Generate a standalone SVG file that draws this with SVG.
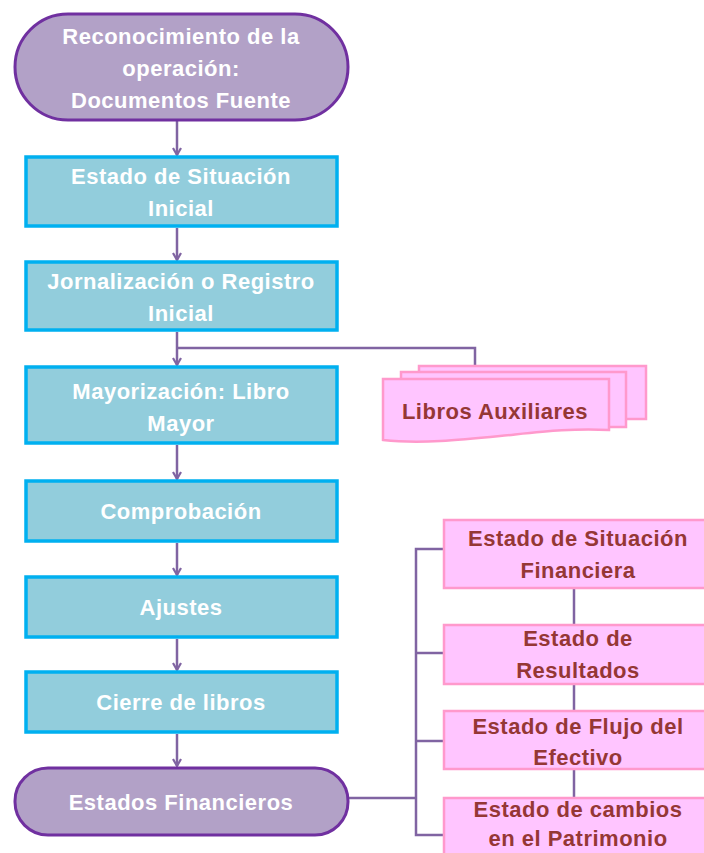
<svg xmlns="http://www.w3.org/2000/svg" width="704" height="853" viewBox="0 0 704 853">
<defs>
<style>
.term{fill:#b2a1c7;stroke:#7030a0;stroke-width:3}
.box{fill:#92cddc;stroke:#00b0f0;stroke-width:3.5}
.pink{fill:#ffc5ff;stroke:#ff99cc;stroke-width:2.5}
.wt{font-family:"Liberation Sans",Arial,sans-serif;font-weight:bold;font-size:22px;letter-spacing:0.5px;fill:#ffffff;text-anchor:middle}
.rt{font-family:"Liberation Sans",Arial,sans-serif;font-weight:bold;font-size:22px;letter-spacing:0.5px;fill:#953735;text-anchor:middle}
.ln{fill:none;stroke:#8064a2;stroke-width:2.5}
</style>
<marker id="ah" viewBox="0 0 10 10" refX="9" refY="5" markerWidth="10" markerHeight="10" markerUnits="userSpaceOnUse" orient="auto">
<path d="M2,1 L9,5 L2,9" fill="none" stroke="#8064a2" stroke-width="2.2"/>
</marker>
</defs>
<rect width="704" height="853" fill="#ffffff"/>

<g id="connectors">
<line class="ln" x1="177" y1="121" x2="177" y2="155" marker-end="url(#ah)"/>
<line class="ln" x1="177" y1="228" x2="177" y2="260" marker-end="url(#ah)"/>
<line class="ln" x1="177" y1="332" x2="177" y2="365" marker-end="url(#ah)"/>
<polyline class="ln" points="177,348 475,348 475,366"/>
<line class="ln" x1="177" y1="445" x2="177" y2="479" marker-end="url(#ah)"/>
<line class="ln" x1="177" y1="543" x2="177" y2="575" marker-end="url(#ah)"/>
<line class="ln" x1="177" y1="639" x2="177" y2="670" marker-end="url(#ah)"/>
<line class="ln" x1="177" y1="734" x2="177" y2="766" marker-end="url(#ah)"/>
<polyline class="ln" points="348,798 416,798"/>
<polyline class="ln" points="444,549 416,549 416,835 444,835"/>
<line class="ln" x1="416" y1="653" x2="444" y2="653"/>
<line class="ln" x1="416" y1="741" x2="444" y2="741"/>
<line class="ln" x1="574" y1="589" x2="574" y2="625"/>
<line class="ln" x1="574" y1="685" x2="574" y2="711"/>
<line class="ln" x1="574" y1="769" x2="574" y2="798"/>
</g>

<g id="n_reconocimiento">
<rect class="term" x="15" y="14" width="333" height="106" rx="53" ry="53"/>
<text class="wt" x="181" y="44">Reconocimiento de la</text>
<text class="wt" x="181" y="76">operación:</text>
<text class="wt" x="181" y="108">Documentos Fuente</text>
</g>

<g id="n_situacion_inicial">
<rect class="box" x="26" y="157" width="311" height="69"/>
<text class="wt" x="181" y="184">Estado de Situación</text>
<text class="wt" x="181" y="216">Inicial</text>
</g>

<g id="n_jornalizacion">
<rect class="box" x="26" y="262" width="311" height="68"/>
<text class="wt" x="181" y="289">Jornalización o Registro</text>
<text class="wt" x="181" y="321">Inicial</text>
</g>

<g id="n_mayorizacion">
<rect class="box" x="26" y="367" width="311" height="76"/>
<text class="wt" x="181" y="399">Mayorización: Libro</text>
<text class="wt" x="181" y="431">Mayor</text>
</g>

<g id="n_libros_auxiliares">
<rect class="pink" x="419" y="366" width="227" height="53"/>
<rect class="pink" x="401" y="372" width="225" height="55"/>
<path class="pink" d="M383,379 L609,379 L609,430 C570,428 540,432 500,436 C460,440 420,444 383,440 Z"/>
<text class="rt" x="495" y="419">Libros Auxiliares</text>
</g>

<g id="n_comprobacion">
<rect class="box" x="26" y="481" width="311" height="60"/>
<text class="wt" x="181" y="519">Comprobación</text>
</g>

<g id="n_ajustes">
<rect class="box" x="26" y="577" width="311" height="60"/>
<text class="wt" x="181" y="615">Ajustes</text>
</g>

<g id="n_cierre">
<rect class="box" x="26" y="672" width="311" height="60"/>
<text class="wt" x="181" y="710">Cierre de libros</text>
</g>

<g id="n_estados_financieros">
<rect class="term" x="15" y="768" width="333" height="67" rx="33" ry="33"/>
<text class="wt" x="181" y="810">Estados Financieros</text>
</g>

<g id="n_esf">
<rect class="pink" x="444" y="520" width="264" height="68"/>
<text class="rt" x="578" y="546">Estado de Situación</text>
<text class="rt" x="578" y="578">Financiera</text>
</g>

<g id="n_er">
<rect class="pink" x="444" y="625" width="264" height="59"/>
<text class="rt" x="578" y="646">Estado de</text>
<text class="rt" x="578" y="678">Resultados</text>
</g>

<g id="n_efe">
<rect class="pink" x="444" y="711" width="264" height="58"/>
<text class="rt" x="578" y="734">Estado de Flujo del</text>
<text class="rt" x="578" y="765">Efectivo</text>
</g>

<g id="n_ecp">
<rect class="pink" x="444" y="798" width="264" height="60"/>
<text class="rt" x="578" y="817">Estado de cambios</text>
<text class="rt" x="578" y="846">en el Patrimonio</text>
</g>
</svg>
